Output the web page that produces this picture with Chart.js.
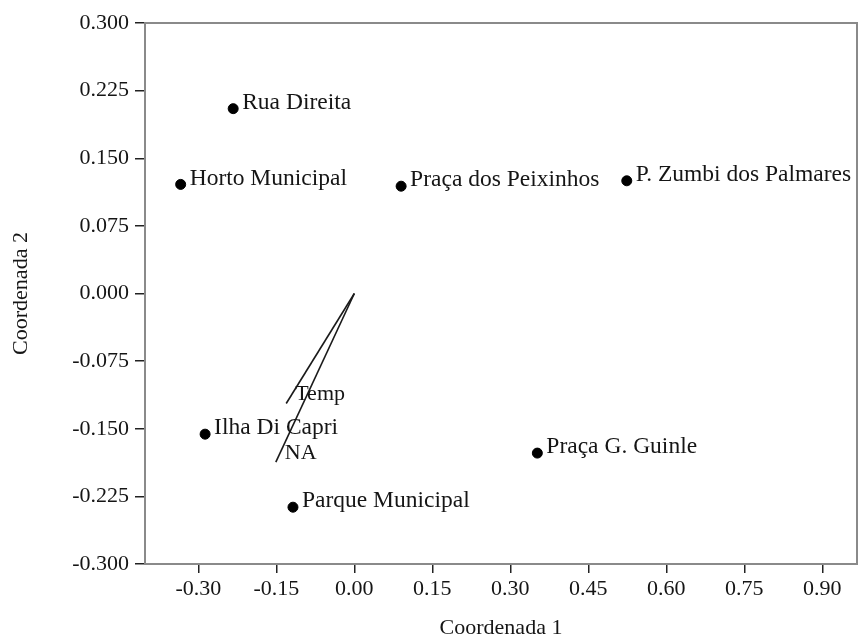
<!DOCTYPE html>
<html><head><meta charset="utf-8">
<script src="https://cdn.jsdelivr.net/npm/chart.js@4/dist/chart.umd.min.js"></script>
<style>html,body{margin:0;padding:0;background:#fff}#wrap{width:858px;height:638px}</style>
</head><body><div id="wrap"><canvas id="c" width="858" height="638"></canvas></div>
<script>
const siteNames = ['Rua Direita','Horto Municipal','Praça dos Peixinhos','P. Zumbi dos Palmares','Ilha Di Capri','Parque Municipal','Praça G. Guinle'];
const coord1 = [-0.233, -0.334, 0.090, 0.524, -0.287, -0.118, 0.352];
const coord2 = [0.205, 0.121, 0.119, 0.125, -0.156, -0.237, -0.177];
const vectorNames = ['Temp','NA'];
const vectorX = [-0.131, -0.151];
const vectorY = [-0.122, -0.187];
const xTicks = [-0.30,-0.15,0.00,0.15,0.30,0.45,0.60,0.75,0.90];
const yTicks = [-0.300,-0.225,-0.150,-0.075,0.000,0.075,0.150,0.225,0.300];
const xMin = -0.4026, xMax = 0.9668, yMin = -0.300, yMax = 0.300;

const FONT = '"Liberation Serif", "Times New Roman", serif';
const TXT = '#151515';

const overlay = {
  id: 'overlay',
  beforeDatasetsDraw(chart) {
    const {ctx, chartArea: a, scales: {x, y}} = chart;
    ctx.save();
    ctx.strokeStyle = '#8a8a8a';
    ctx.lineWidth = 2;
    ctx.strokeRect(a.left, a.top, a.right - a.left, a.bottom - a.top);
    // vectors
    ctx.strokeStyle = '#1a1a1a';
    ctx.lineWidth = 1.6;
    const ox = x.getPixelForValue(0), oy = y.getPixelForValue(0);
    ctx.font = '22px ' + FONT;
    ctx.fillStyle = TXT;
    ctx.textAlign = 'left';
    ctx.textBaseline = 'middle';
    vectorNames.forEach((n, i) => {
      const ex = x.getPixelForValue(vectorX[i]), ey = y.getPixelForValue(vectorY[i]);
      ctx.beginPath(); ctx.moveTo(ox, oy); ctx.lineTo(ex, ey); ctx.stroke();
      ctx.fillText(n, ex + 9, ey - 9);
    });
    ctx.restore();
  },
  afterDatasetsDraw(chart) {
    const {ctx, scales: {x, y}} = chart;
    ctx.save();
    ctx.font = '23.5px ' + FONT;
    ctx.fillStyle = TXT;
    ctx.textAlign = 'left';
    ctx.textBaseline = 'middle';
    siteNames.forEach((n, i) => {
      const px = x.getPixelForValue(coord1[i]), py = y.getPixelForValue(coord2[i]);
      ctx.fillText(n, px + 9, py - 6);
    });
    ctx.restore();
  }
};

new Chart(document.getElementById('c'), {
  type: 'scatter',
  data: {
    datasets: [{
      label: 'Sites',
      data: coord1.map((v, i) => ({x: v, y: coord2[i]})),
      backgroundColor: '#000',
      borderColor: '#000',
      pointRadius: 5,
      pointHoverRadius: 5
    }]
  },
  options: {
    responsive: false,
    animation: false,
    devicePixelRatio: 1,
    layout: {autoPadding: false, padding: {top: 23, right: 1, left: 0, bottom: 0}},
    plugins: {legend: {display: false}, tooltip: {enabled: false}},
    scales: {
      x: {
        type: 'linear', min: xMin, max: xMax,
        afterBuildTicks(s) { s.ticks = xTicks.map(v => ({value: v})); },
        afterFit(s) { s.height = 74; s.paddingLeft = 0; s.paddingRight = 0; },
        border: {display: false},
        grid: {drawOnChartArea: false, drawTicks: true, tickLength: 9, color: '#222', lineWidth: 1.5},
        ticks: {font: {family: FONT, size: 22}, color: TXT, padding: 3, maxRotation: 0, autoSkip: false,
                callback: (v) => Number(v).toFixed(2)},
        title: {display: true, text: 'Coordenada 1', font: {family: FONT, size: 22}, color: TXT, padding: {top: 0, bottom: -3}}
      },
      y: {
        type: 'linear', min: yMin, max: yMax,
        afterBuildTicks(s) { s.ticks = yTicks.map(v => ({value: v})); },
        afterFit(s) { s.width = 145; s.paddingTop = 0; s.paddingBottom = 0; },
        border: {display: false},
        grid: {drawOnChartArea: false, drawTicks: true, tickLength: 10, color: '#222', lineWidth: 1.5},
        ticks: {font: {family: FONT, size: 22}, color: TXT, padding: 6, autoSkip: false,
                callback: (v) => Number(v).toFixed(3)},
        title: {display: true, text: 'Coordenada 2', font: {family: FONT, size: 22}, color: TXT, padding: {top: 8, bottom: 0}}
      }
    }
  },
  plugins: [overlay]
});
</script></body></html>
